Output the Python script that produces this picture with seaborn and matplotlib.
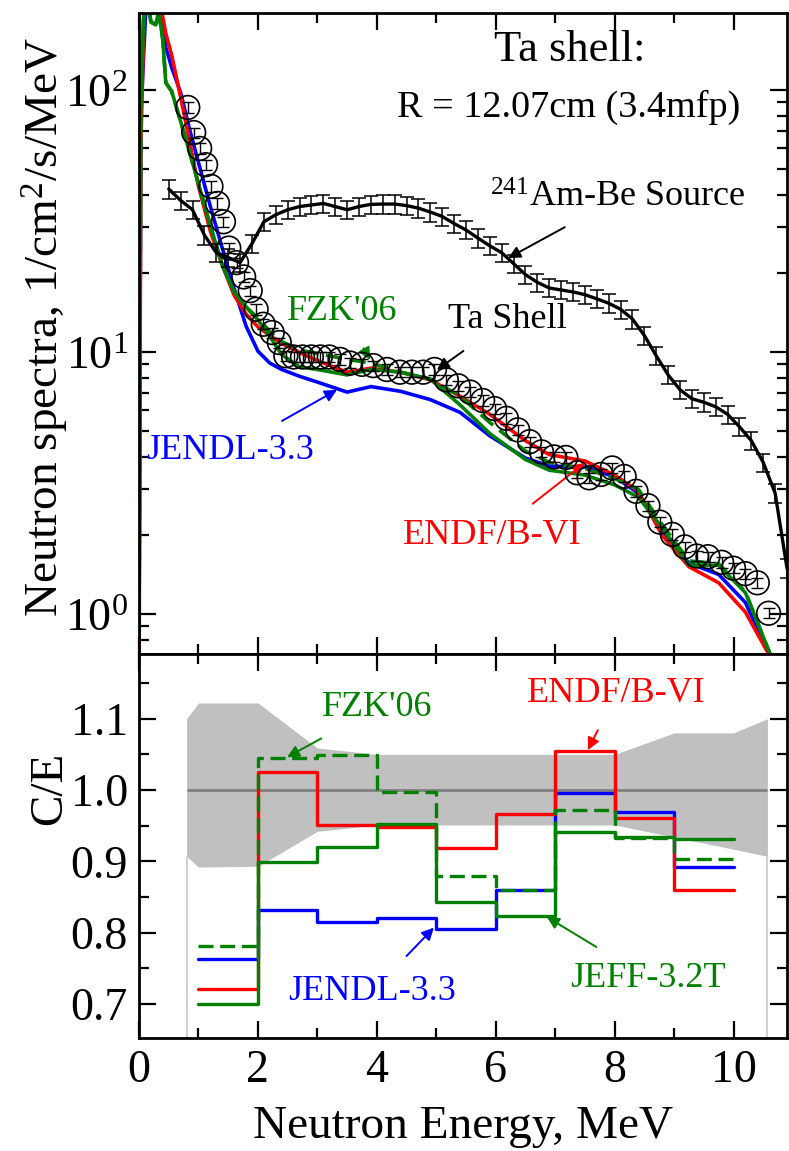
import numpy as np
import pandas as pd
import matplotlib
matplotlib.use("Agg")
import matplotlib.pyplot as plt
import seaborn as sns
from matplotlib.ticker import LogLocator, MultipleLocator, NullFormatter, LogFormatterMathtext, FormatStrFormatter

# ---------------- data: upper panel (spectra) ----------------
E_model = [0.0, 0.03, 0.08, 0.15, 0.2, 0.28, 0.33, 0.4, 0.45, 0.55, 0.7, 0.85, 1.0, 1.2, 1.4,
           1.6, 1.8, 2.0, 2.2, 2.4, 2.7, 3.0, 3.5, 3.9, 4.4, 4.9, 5.4, 5.9, 6.5, 6.9, 7.5,
           8.0, 8.4, 8.8, 9.25, 9.75, 10.2, 10.6, 10.9]
endf_spec = [0.5, 60, 180, 300, 320, 300, 240, 190, 165, 136, 94, 64, 43, 29, 21.5,
             16.5, 14.0, 12.5, 11.6, 10.8, 10.0, 9.3, 8.4, 8.7, 8.4, 7.85, 6.8, 5.8, 4.6, 4.07, 3.85,
             3.4, 2.95, 2.0, 1.52, 1.32, 1.02, 0.70, 0.45]
jendl_spec = [0.8, 80, 140, 300, 320, 300, 230, 180, 146, 122, 98, 71, 53, 36, 25,
              17.5, 12.6, 10.1, 9.1, 8.6, 8.1, 7.7, 7.05, 7.4, 7.1, 6.6, 5.9, 4.8, 3.95, 3.68, 3.65,
              3.35, 2.9, 2.05, 1.57, 1.42, 1.11, 0.70, 0.45]
jeff_spec = [0.8, 92, 200, 220, 182, 178, 200, 156, 107, 99, 76, 58, 44, 30.5, 21.5,
             17.0, 14.9, 13.3, 11.5, 9.8, 8.8, 8.6, 8.2, 8.6, 8.4, 7.9, 6.3, 4.9, 3.9, 3.55, 3.4,
             3.12, 2.8, 2.14, 1.54, 1.54, 1.21, 0.72, 0.45]
fzk_spec = [0.8, 92, 200, 220, 182, 178, 200, 156, 107, 99, 76, 58, 44, 30.5, 21.5,
            17.0, 14.9, 13.5, 12.0, 11.0, 10.2, 9.9, 9.4, 9.1, 8.4, 7.9, 6.8, 5.4, 4.2, 3.8, 3.6,
            3.3, 3.0, 2.2, 1.6, 1.56, 1.22, 0.72, 0.45]

E_ambe = [0.5, 0.7, 0.9, 1.1, 1.3, 1.5, 1.7, 1.9, 2.1, 2.3, 2.5, 2.7, 2.9, 3.1, 3.3, 3.5, 3.7,
          3.9, 4.1, 4.3, 4.5, 4.7, 4.9, 5.1, 5.3, 5.5, 5.7, 5.9, 6.1, 6.3, 6.5, 6.7, 6.9, 7.1,
          7.3, 7.5, 7.7, 7.9, 8.1, 8.3, 8.5, 8.7, 8.9, 9.1, 9.3, 9.5, 9.7, 9.9, 10.1, 10.3,
          10.5, 10.7, 10.9]
ambe_spec = [42, 38, 35, 28, 24, 23, 22, 26, 31.5, 33.5, 35, 36, 36.5, 37, 36, 35, 36,
             36.7, 36.8, 36.8, 36.3, 35.5, 34.3, 33, 31, 29.3, 27.3, 25.5, 24, 21.8, 19.8, 18.5, 17.6, 17.3,
             17.0, 16.6, 16.0, 15.4, 14.6, 13.4, 11.6, 9.7, 8.2, 7.2, 6.65, 6.45, 6.2, 5.8, 5.2, 4.6,
             3.8, 2.9, 1.5]

E_ta = [0.82, 0.92, 1.02, 1.12, 1.21, 1.32, 1.42, 1.51, 1.64, 1.76, 1.87, 1.97, 2.09, 2.24, 2.36,
        2.47, 2.6, 2.75, 2.9, 3.05, 3.2, 3.38, 3.55, 3.75, 3.94, 4.17, 4.39, 4.59, 4.78, 4.97,
        5.17, 5.37, 5.57, 5.78, 5.98, 6.18, 6.37, 6.57, 6.77, 6.98, 7.18, 7.37, 7.57, 7.77, 7.96,
        8.16, 8.36, 8.56, 8.76, 8.97, 9.18, 9.38, 9.57, 9.8, 10.0, 10.2, 10.4, 10.59]
ta_spec = [86, 69, 60, 52, 43, 37, 31.5, 25, 22, 19.4, 17.2, 14.6, 12.8, 11.9, 10.9,
           9.7, 9.6, 9.6, 9.6, 9.6, 9.6, 9.4, 9.1, 9.0, 8.9, 8.6, 8.4, 8.4, 8.4, 8.6,
           7.85, 7.45, 7.05, 6.55, 6.1, 5.6, 5.06, 4.56, 4.17, 3.99, 3.97, 3.47, 3.32, 3.42, 3.62,
           3.36, 2.95, 2.6, 2.25, 2.02, 1.81, 1.67, 1.66, 1.58, 1.5, 1.43, 1.32, 1.01]

# ---------------- data: lower panel (C/E) ----------------
bin_edges = [1, 2, 3, 4, 5, 6, 7, 8, 9, 10]
ce_endf = [0.721, 1.025, 0.951, 0.948, 0.919, 0.966, 1.055, 0.961, 0.860]
ce_jendl = [0.763, 0.832, 0.815, 0.820, 0.805, 0.860, 0.996, 0.969, 0.892]
ce_jeff = [0.700, 0.899, 0.920, 0.952, 0.843, 0.823, 0.941, 0.934, 0.931]
ce_fzk = [0.781, 1.045, 1.049, 0.997, 0.879, 0.860, 0.972, 0.933, 0.903]

band_x = [0.8, 1.0, 2.0, 3.0, 4.0, 8.0, 9.0, 10.0, 10.57]
band_hi = [1.100, 1.122, 1.122, 1.059, 1.050, 1.050, 1.080, 1.080, 1.100]
band_lo = [0.907, 0.892, 0.893, 0.942, 0.951, 0.951, 0.934, 0.917, 0.907]

RED, BLUE, GREEN = "#ff0000", "#0000ff", "#008000"

sns.set_style("ticks")
plt.rcParams["font.family"] = ["Liberation Serif", "DejaVu Serif"]
plt.rcParams["mathtext.fontset"] = "custom"
plt.rcParams["mathtext.rm"] = "Liberation Serif"
plt.rcParams["mathtext.it"] = "Liberation Serif:italic"
plt.rcParams["mathtext.bf"] = "Liberation Serif:bold"
for key in ("text.color", "axes.labelcolor", "xtick.color", "ytick.color", "axes.edgecolor"):
    plt.rcParams[key] = "black"

fig = plt.figure(figsize=(7.89, 11.51), dpi=100)
ax1 = fig.add_axes([0.1762, 0.4318, 0.8213, 0.5573])
ax2 = fig.add_axes([0.1762, 0.0982, 0.8213, 0.3336])

LW = 2.6
# ---- upper panel ----
sns.lineplot(x=E_model, y=jendl_spec, ax=ax1, color=BLUE, lw=LW, estimator=None, sort=False)
sns.lineplot(x=E_model, y=endf_spec, ax=ax1, color=RED, lw=LW, estimator=None, sort=False)
sns.lineplot(x=E_model, y=fzk_spec, ax=ax1, color=GREEN, lw=LW, estimator=None, sort=False,
             dashes=False, linestyle=(0, (4.5, 2.2)))
sns.lineplot(x=E_model, y=jeff_spec, ax=ax1, color=GREEN, lw=LW, estimator=None, sort=False)

ambe_arr = np.array(ambe_spec)
sns.lineplot(x=E_ambe, y=ambe_spec, ax=ax1, color="black", lw=2.4, estimator=None, sort=False)
ax1.errorbar(E_ambe, ambe_spec, yerr=0.08 * ambe_arr, fmt="none", ecolor="black",
             elinewidth=1.1, capsize=5, capthick=1.1)

ta_arr = np.array(ta_spec)
ax1.errorbar(E_ta, ta_spec, yerr=0.045 * ta_arr, fmt="none", ecolor="black",
             elinewidth=1.0, capsize=4, capthick=1.0)
sns.scatterplot(x=E_ta, y=ta_spec, ax=ax1, s=290, facecolors="none", edgecolor="black",
                linewidth=1.2, marker="o", zorder=5)

ax1.set_yscale("log")
ax1.set_xlim(0, 10.9)
ax1.set_ylim(0.706, 198)
ax1.xaxis.set_major_locator(MultipleLocator(2))
ax1.xaxis.set_minor_locator(MultipleLocator(1))
ax1.xaxis.set_major_formatter(NullFormatter())
ax1.yaxis.set_major_locator(LogLocator(base=10))
ax1.yaxis.set_minor_locator(LogLocator(base=10, subs=np.arange(2, 10)))
ax1.yaxis.set_major_formatter(LogFormatterMathtext())
ax1.yaxis.set_minor_formatter(NullFormatter())
ax1.set_xlabel("")
ax1.set_ylabel("Neutron spectra, 1/cm$^2$/s/MeV", fontsize=34)
ax1.yaxis.set_label_coords(-0.105, 0.51)

FS_ANN = 26
ax1.text(7.25, 143, "Ta shell:", fontsize=32, ha="center", va="center")
ax1.text(7.22, 85.8, "R = 12.07cm (3.4mfp)", fontsize=27.5, ha="center", va="center")
ax1.annotate("$^{241}$Am-Be Source", xy=(6.21, 22.9), xytext=(8.06, 38.8), fontsize=FS_ANN,
             ha="center", va="center", color="black",
             arrowprops=dict(arrowstyle="-|>", color="black", lw=1.4, mutation_scale=18,
                             shrinkA=14, shrinkB=0))
ax1.annotate("Ta Shell", xy=(5.01, 8.57), xytext=(6.19, 13.3), fontsize=FS_ANN,
             ha="center", va="center", color="black",
             arrowprops=dict(arrowstyle="-|>", color="black", lw=1.4, mutation_scale=18,
                             shrinkA=14, shrinkB=0))
ax1.annotate("FZK'06", xy=(3.89, 9.36), xytext=(3.42, 14.3), fontsize=FS_ANN,
             ha="center", va="center", color=GREEN,
             arrowprops=dict(arrowstyle="-|>", color=GREEN, lw=1.4, mutation_scale=18,
                             shrinkA=14, shrinkB=0))
ax1.annotate("JENDL-3.3", xy=(3.33, 7.19), xytext=(1.53, 4.23), fontsize=FS_ANN,
             ha="center", va="center", color=BLUE,
             arrowprops=dict(arrowstyle="-|>", color=BLUE, lw=1.4, mutation_scale=18,
                             shrinkA=14, shrinkB=0))
ax1.annotate("ENDF/B-VI", xy=(7.5, 3.79), xytext=(5.94, 2.0), fontsize=FS_ANN,
             ha="center", va="center", color=RED,
             arrowprops=dict(arrowstyle="-|>", color=RED, lw=1.4, mutation_scale=18,
                             shrinkA=14, shrinkB=0))

# ---- lower panel ----
ax2.fill_between(band_x, band_lo, band_hi, color="#c0c0c0", lw=0, zorder=0)
ax2.vlines([band_x[0], band_x[-1]], 0.6, [band_lo[0], band_lo[-1]], color="#c8c8c8", lw=1.2, zorder=0)
ax2.hlines(1.0, band_x[0], band_x[-1], color="#808080", lw=2.0, zorder=1)

def steps(vals):
    return list(bin_edges), list(vals) + [vals[-1]]

for vals, col, ls in [(ce_jendl, BLUE, "-"), (ce_endf, RED, "-"), (ce_jeff, GREEN, "-"),
                      (ce_fzk, GREEN, (0, (4.5, 2.0)))]:
    xs, ys = steps(vals)
    sns.lineplot(x=xs, y=ys, ax=ax2, color=col, lw=2.4, drawstyle="steps-post",
                 estimator=None, sort=False, linestyle=ls, zorder=3)

ax2.set_xlim(0, 10.9)
ax2.set_ylim(0.6523, 1.1907)
ax2.xaxis.set_major_locator(MultipleLocator(2))
ax2.xaxis.set_minor_locator(MultipleLocator(1))
ax2.yaxis.set_major_locator(MultipleLocator(0.1))
ax2.yaxis.set_minor_locator(MultipleLocator(0.05))
ax2.yaxis.set_major_formatter(FormatStrFormatter("%.1f"))
ax2.set_xlabel("Neutron Energy, MeV", fontsize=34, labelpad=10)
ax2.set_ylabel("C/E", fontsize=34)
ax2.yaxis.set_label_coords(-0.105, 0.65)

ax2.annotate("FZK'06", xy=(2.49, 1.046), xytext=(4.0, 1.115), fontsize=FS_ANN,
             ha="center", va="center", color=GREEN,
             arrowprops=dict(arrowstyle="-|>", color=GREEN, lw=1.4, mutation_scale=18,
                             shrinkA=16, shrinkB=0))
ax2.annotate("ENDF/B-VI", xy=(7.55, 1.056), xytext=(8.03, 1.136), fontsize=FS_ANN,
             ha="center", va="center", color=RED,
             arrowprops=dict(arrowstyle="-|>", color=RED, lw=1.4, mutation_scale=18,
                             shrinkA=14, shrinkB=0))
ax2.annotate("JENDL-3.3", xy=(4.96, 0.807), xytext=(3.92, 0.717), fontsize=FS_ANN,
             ha="center", va="center", color=BLUE,
             arrowprops=dict(arrowstyle="-|>", color=BLUE, lw=1.4, mutation_scale=18,
                             shrinkA=16, shrinkB=0))
ax2.annotate("JEFF-3.2T", xy=(6.86, 0.822), xytext=(8.56, 0.736), fontsize=FS_ANN,
             ha="center", va="center", color=GREEN,
             arrowprops=dict(arrowstyle="-|>", color=GREEN, lw=1.4, mutation_scale=18,
                             shrinkA=16, shrinkB=0))

for ax in (ax1, ax2):
    ax.tick_params(which="both", direction="in", top=True, right=True, labelsize=33,
                   width=1.6, color="black", labelcolor="black")
    ax.tick_params(which="major", length=12, pad=8)
    ax.tick_params(which="minor", length=7)
    for sp in ax.spines.values():
        sp.set_linewidth(2.0)
        sp.set_color("black")
        sp.set_visible(True)

fig.savefig("out.png", dpi=100)
